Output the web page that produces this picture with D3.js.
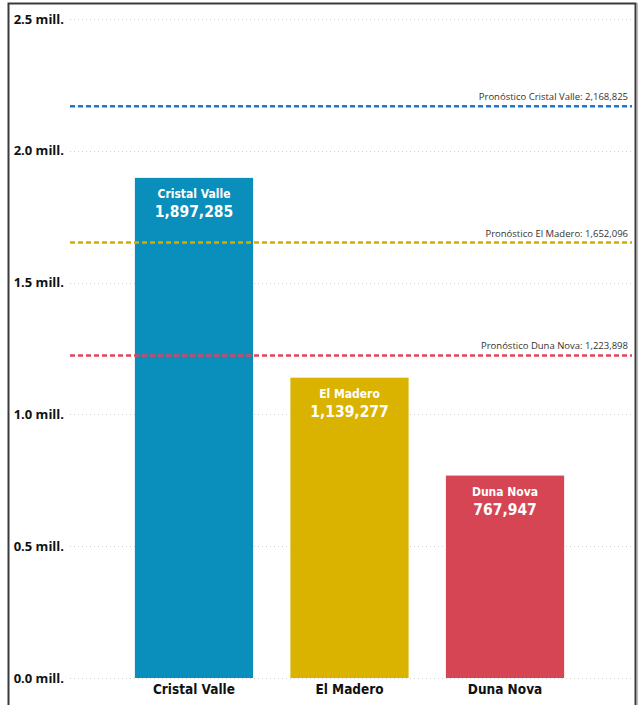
<!DOCTYPE html>
<html>
<head>
<meta charset="utf-8">
<script src="https://cdn.jsdelivr.net/npm/d3@7"></script>
<style>
  html, body { margin: 0; padding: 0; background: #fff; }
  svg { display: block; }
</style>
</head>
<body>
<svg id="chart" width="640" height="705"></svg>
<script>
// Sales per store with their forecast targets
const stores = ["Cristal Valle", "El Madero", "Duna Nova"];
const sales = [1897285, 1139277, 767947];
const forecasts = [2168825, 1652096, 1223898];
const barColors = ["#0A8EBB", "#D9B300", "#D64553"];
const forecastColors = ["#1C76CC", "#CFAE0A", "#E0455C"];
const yTicks = [0, 500000, 1000000, 1500000, 2000000, 2500000];
const yTickLabels = ["0.0 mill.", "0.5 mill.", "1.0 mill.", "1.5 mill.", "2.0 mill.", "2.5 mill."];

const svg = d3.select("#chart");
const fmt = d3.format(",");

const y = d3.scaleLinear().domain([0, 2500000]).range([678, 19]);
const x = d3.scaleBand().domain(stores).range([68, 631]).paddingInner(0.24).paddingOuter(0.43);

// Frame
svg.append("path")
  .attr("d", "M8.5,705 V3.5 H635.5 V705")
  .attr("fill", "none").attr("stroke", "#3a3a3a").attr("stroke-width", 2);
svg.append("line")
  .attr("x1", 637.5).attr("x2", 637.5).attr("y1", 3).attr("y2", 705)
  .attr("stroke", "#bbb").attr("stroke-width", 1);

// Gridlines
svg.append("g").selectAll("line").data(yTicks).join("line")
  .attr("x1", 70).attr("x2", 632)
  .attr("y1", d => Math.round(y(d)) + 0.5).attr("y2", d => Math.round(y(d)) + 0.5)
  .attr("stroke", "#cfcfcf").attr("stroke-width", 1).attr("stroke-dasharray", "1,3");

// Y axis labels
const yAxis = d3.axisLeft(y).tickValues(yTicks).tickFormat((d, i) => yTickLabels[i]).tickSize(0).tickPadding(0);
const gy = svg.append("g").attr("transform", "translate(64,0)").call(yAxis);
gy.select(".domain").remove();
gy.selectAll("text")
  .attr("font-family", "'Open Sans', sans-serif").attr("font-weight", 700)
  .attr("font-size", 13).attr("fill", "#111");

// Bars
svg.append("g").selectAll("rect").data(stores).join("rect")
  .attr("x", d => x(d)).attr("width", x.bandwidth())
  .attr("y", (d, i) => y(sales[i])).attr("height", (d, i) => y(0) - y(sales[i]))
  .attr("fill", (d, i) => barColors[i]);

// Bar labels
const lab = svg.append("g").selectAll("g").data(stores).join("g")
  .attr("transform", (d, i) => `translate(${x(d) + x.bandwidth() / 2},${y(sales[i])})`);
lab.append("text").text(d => d)
  .attr("y", 20).attr("text-anchor", "middle")
  .attr("font-family", "'DejaVu Sans Condensed', 'DejaVu Sans', sans-serif").attr("font-weight", 700)
  .attr("font-size", 12).attr("fill", "#fff");
lab.append("text").text((d, i) => fmt(sales[i]))
  .attr("y", 39).attr("text-anchor", "middle")
  .attr("font-family", "'DejaVu Sans Condensed', 'DejaVu Sans', sans-serif").attr("font-weight", 700)
  .attr("font-size", 15.5).attr("fill", "#fff");

// Forecast lines
const fc = svg.append("g").selectAll("g").data(stores).join("g");
fc.append("line")
  .attr("x1", 70).attr("x2", 632)
  .attr("y1", (d, i) => y(forecasts[i])).attr("y2", (d, i) => y(forecasts[i]))
  .attr("stroke", (d, i) => forecastColors[i]).attr("stroke-width", 2.5)
  .attr("stroke-dasharray", "5,3");
fc.append("text")
  .text((d, i) => `Pronóstico ${d}: ${fmt(forecasts[i])}`)
  .attr("x", 628).attr("y", (d, i) => y(forecasts[i]) - 6)
  .attr("text-anchor", "end")
  .attr("font-family", "'Open Sans', sans-serif").attr("font-size", 9.5).attr("fill", "#333");

// X axis labels
const xAxis = d3.axisBottom(x).tickSize(0).tickPadding(0);
const gx = svg.append("g").attr("transform", "translate(0,684)").call(xAxis);
gx.select(".domain").remove();
gx.selectAll("text")
  .attr("dy", "0.71em")
  .attr("font-family", "'DejaVu Sans Condensed', 'DejaVu Sans', sans-serif").attr("font-weight", 700)
  .attr("font-size", 13.5).attr("fill", "#111");
</script>
</body>
</html>
